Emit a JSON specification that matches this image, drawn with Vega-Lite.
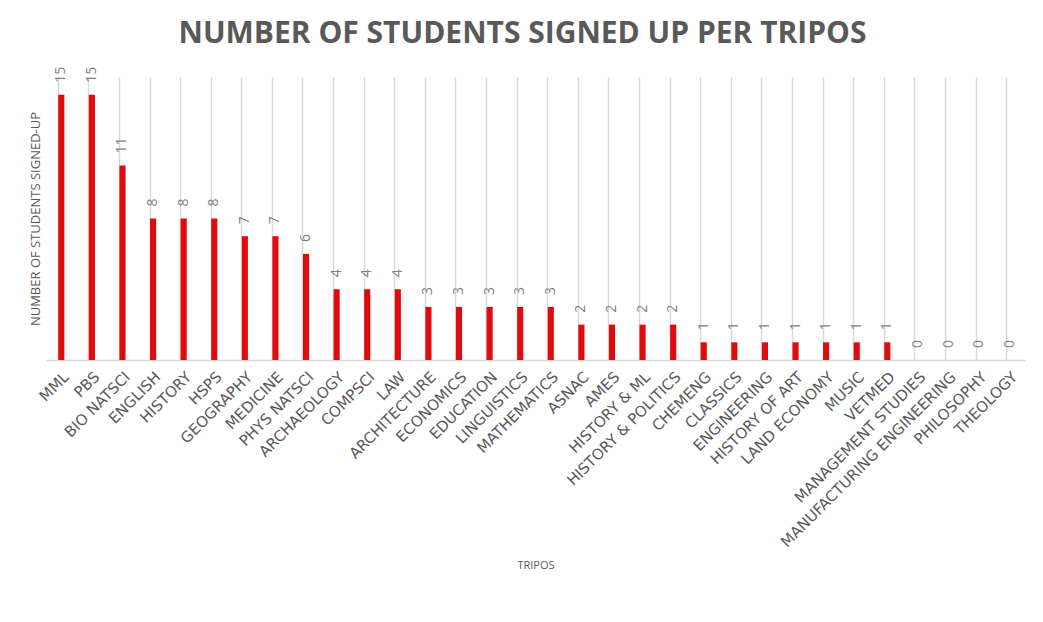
{
  "$schema": "https://vega.github.io/schema/vega-lite/v6.json",
  "autosize": "none",
  "width": 979,
  "height": 283,
  "padding": {"left": 46, "top": 77, "right": 18, "bottom": 262},
  "background": "white",
  "title": {
    "text": "NUMBER OF STUDENTS SIGNED UP PER TRIPOS",
    "font": "Open Sans",
    "fontSize": 30,
    "fontWeight": "bold",
    "color": "#595959",
    "anchor": "middle",
    "dx": -13,
    "offset": 18
  },
  "data": {
    "values": [
      {"tripos": "MML", "students": 15},
      {"tripos": "PBS", "students": 15},
      {"tripos": "BIO NATSCI", "students": 11},
      {"tripos": "ENGLISH", "students": 8},
      {"tripos": "HISTORY", "students": 8},
      {"tripos": "HSPS", "students": 8},
      {"tripos": "GEOGRAPHY", "students": 7},
      {"tripos": "MEDICINE", "students": 7},
      {"tripos": "PHYS NATSCI", "students": 6},
      {"tripos": "ARCHAEOLOGY", "students": 4},
      {"tripos": "COMPSCI", "students": 4},
      {"tripos": "LAW", "students": 4},
      {"tripos": "ARCHITECTURE", "students": 3},
      {"tripos": "ECONOMICS", "students": 3},
      {"tripos": "EDUCATION", "students": 3},
      {"tripos": "LINGUISTICS", "students": 3},
      {"tripos": "MATHEMATICS", "students": 3},
      {"tripos": "ASNAC", "students": 2},
      {"tripos": "AMES", "students": 2},
      {"tripos": "HISTORY & ML", "students": 2},
      {"tripos": "HISTORY & POLITICS", "students": 2},
      {"tripos": "CHEMENG", "students": 1},
      {"tripos": "CLASSICS", "students": 1},
      {"tripos": "ENGINEERING", "students": 1},
      {"tripos": "HISTORY OF ART", "students": 1},
      {"tripos": "LAND ECONOMY", "students": 1},
      {"tripos": "MUSIC", "students": 1},
      {"tripos": "VETMED", "students": 1},
      {"tripos": "MANAGEMENT STUDIES", "students": 0},
      {"tripos": "MANUFACTURING ENGINEERING", "students": 0},
      {"tripos": "PHILOSOPHY", "students": 0},
      {"tripos": "THEOLOGY", "students": 0}
    ]
  },
  "config": {
    "view": {"stroke": null},
    "font": "Open Sans"
  },
  "encoding": {
    "x": {
      "field": "tripos",
      "type": "nominal",
      "sort": null,
      "scale": {"paddingInner": 0.8, "paddingOuter": 0.4},
      "axis": {
        "title": "TRIPOS",
        "titleFont": "Open Sans",
        "titleFontSize": 11,
        "titleFontWeight": "normal",
        "titleColor": "#595959",
        "titleY": 205,
        "titleBaseline": "middle",
        "labelAngle": -45,
        "labelFont": "DejaVu Sans",
        "labelFontSize": 15,
        "labelColor": "#595959",
        "labelPadding": 9,
        "labelLimit": 0,
        "labelOverlap": false,
        "ticks": false,
        "grid": true,
        "gridColor": "#d9d9d9",
        "gridWidth": 1.5,
        "bandPosition": 0,
        "domainColor": "#d9d9d9",
        "domainWidth": 1.5
      }
    },
    "y": {
      "field": "students",
      "type": "quantitative",
      "scale": {"domain": [0, 16]},
      "axis": {
        "title": "NUMBER OF STUDENTS SIGNED-UP",
        "titleFont": "Open Sans",
        "titleFontSize": 13,
        "titleFontWeight": "normal",
        "titleColor": "#595959",
        "titlePadding": 4,
        "labels": false,
        "ticks": false,
        "domain": false,
        "grid": false
      }
    }
  },
  "layer": [
    {
      "mark": {"type": "bar", "color": "#e00b0b"}
    },
    {
      "mark": {
        "type": "text",
        "angle": -90,
        "align": "left",
        "baseline": "middle",
        "dx": 12,
        "font": "Open Sans",
        "fontSize": 14,
        "color": "#7f7f7f"
      },
      "encoding": {
        "text": {"field": "students", "type": "quantitative"}
      }
    }
  ]
}
